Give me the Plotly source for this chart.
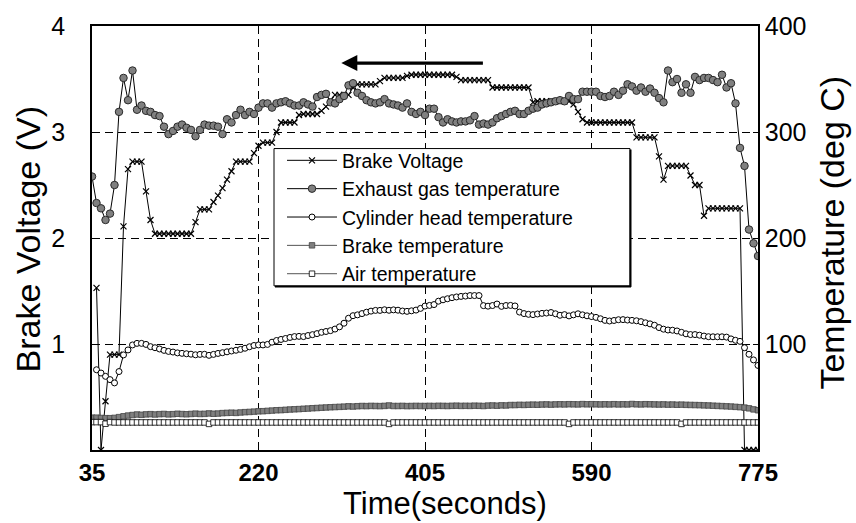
import plotly.graph_objects as go

# ---- data ----
time_s = list(range(35, 780, 5))  # 35 ... 775 s, 5 s sampling

brake_voltage = [
    None, 1.53, 0.0, 0.46, 0.90, 0.90, 0.90, 2.11, 2.65, 2.72,
    2.72, 2.72, 2.44, 2.17, 2.04, 2.04, 2.04, 2.04, 2.04, 2.04,
    2.04, 2.04, 2.04, 2.15, 2.27, 2.27, 2.27, 2.34, 2.40, 2.47,
    2.55, 2.63, 2.72, 2.72, 2.72, 2.72, 2.80, 2.87, 2.90, 2.90,
    2.90, 3.00, 3.09, 3.09, 3.09, 3.09, 3.16, 3.17, 3.17, 3.17,
    3.17, 3.20, 3.24, 3.30, 3.35, 3.35, 3.35, 3.35, 3.42, 3.45,
    3.45, 3.45, 3.45, 3.45, 3.48, 3.51, 3.51, 3.51, 3.51, 3.51,
    3.53, 3.54, 3.54, 3.54, 3.54, 3.54, 3.54, 3.54, 3.54, 3.54,
    3.54, 3.52, 3.49, 3.49, 3.49, 3.49, 3.49, 3.49, 3.49, 3.42,
    3.42, 3.42, 3.42, 3.42, 3.42, 3.42, 3.42, 3.42, 3.28, 3.29,
    3.29, 3.29, 3.29, 3.29, 3.29, 3.29, 3.29, 3.26, 3.19, 3.12,
    3.09, 3.09, 3.09, 3.09, 3.09, 3.09, 3.09, 3.09, 3.09, 3.09,
    3.09, 2.95, 2.95, 2.95, 2.95, 2.95, 2.77, 2.55, 2.68, 2.68,
    2.68, 2.68, 2.68, 2.59, 2.50, 2.50, 2.21, 2.28, 2.28, 2.28,
    2.28, 2.28, 2.28, 2.28, 2.28, 0.0, 0.0, 0.0, 0.0,
]

exhaust_temp = [
    258, 233, 228, 217, 223, 250, 319, 351, 330, 358,
    321, 325, 320, 319, 316, 315, 305, 298, 301, 305,
    307, 304, 302, 296, 302, 307, 306, 306, 305, 298,
    312, 309, 316, 321, 316, 319, 317, 323, 327, 327,
    323, 327, 328, 329, 327, 325, 325, 328, 326, 324,
    333, 335, 336, 328, 327, 331, 334, 344, 346, 337,
    334, 330, 328, 327, 328, 331, 327, 326, 325, 323,
    327, 319, 317, 319, 316, 322, 322, 314, 309, 312,
    310, 309, 310, 310, 311, 315, 307, 308, 307, 309,
    313, 315, 317, 319, 320, 317, 317, 320, 322, 323,
    326, 327, 328, 329, 330, 329, 334, 331, 331, 338,
    338, 338, 338, 334, 333, 334, 338, 335, 339, 345,
    343, 339, 342, 338, 341, 337, 332, 328, 358, 347,
    350, 337, 345, 337, 352, 349, 351, 351, 349, 347,
    354, 342, 346, 327, 285, 268, 208, 195, 183,
]

cylinder_head_temp = [
    None, 75.7, 72.6, 69.5, 66.4, 63.3, 74.0, 89.7, 94.4, 99.1,
    100.6, 100.6, 99.6, 97.5, 96.5, 95.3, 94.0, 93.0, 92.4, 91.6,
    91.2, 90.8, 90.4, 89.8, 90.2, 90.3, 89.3, 90.2, 91.1, 91.8,
    92.6, 93.4, 94.1, 94.9, 96.0, 97.4, 98.6, 99.1, 99.1, 99.6,
    101.7, 103.3, 104.3, 105.2, 106.2, 107.0, 107.2, 107.0, 108.0, 108.8,
    109.8, 111.0, 111.8, 112.6, 114.1, 116.2, 119.6, 124.3, 126.7, 127.5,
    128.7, 130.0, 131.0, 131.7, 131.7, 132.3, 131.8, 132.2, 131.9, 131.1,
    130.8, 131.3, 132.0, 133.6, 135.8, 136.4, 137.2, 140.4, 141.7, 142.7,
    143.7, 144.4, 144.9, 145.2, 145.7, 145.7, 145.7, 136.2, 135.7, 136.3,
    137.7, 135.5, 136.3, 136.4, 135.9, 130.1, 128.7, 128.0, 127.7, 128.3,
    128.9, 129.2, 129.7, 128.5, 127.1, 127.7, 126.5, 127.5, 128.5, 127.5,
    126.6, 125.9, 125.1, 123.8, 122.3, 121.7, 122.2, 122.9, 123.0, 122.6,
    122.3, 121.9, 121.1, 120.0, 119.0, 117.7, 115.5, 114.0, 113.2, 113.0,
    112.3, 111.0, 109.6, 108.9, 108.9, 108.3, 107.5, 106.9, 106.8, 106.8,
    106.8, 106.5, 104.8, 103.5, 102.5, 96.5, 90.3, 85.0, 79.8,
]

brake_temp = [
    30.5, 30.5, 30.2, 30.0, 30.0, 30.3, 31.0, 31.8, 32.5, 33.0,
    33.5, 33.2, 33.6, 33.8, 33.5, 33.8, 34.0, 33.6, 33.8, 34.2,
    33.9, 33.7, 34.0, 34.3, 34.0, 34.1, 34.5, 34.2, 34.4, 34.8,
    35.0, 35.2, 35.0, 35.4, 35.7, 35.9, 36.2, 36.5, 36.6, 36.9,
    37.2, 37.5, 37.6, 37.9, 38.2, 38.4, 38.6, 38.9, 39.1, 39.4,
    39.6, 39.9, 40.1, 40.3, 40.5, 40.7, 40.9, 41.2, 41.0, 41.3,
    41.5, 41.4, 41.6, 41.5, 41.4, 41.6, 42.0, 41.5, 41.5, 41.6,
    41.4, 41.5, 41.6, 41.5, 41.5, 41.6, 41.5, 41.7, 41.6, 41.5,
    41.7, 41.8, 41.6, 41.7, 41.6, 41.8, 41.7, 41.5, 41.9, 42.0,
    41.8, 42.1, 42.0, 42.4, 42.4, 42.6, 42.5, 42.7, 42.8, 42.7,
    42.9, 43.0, 42.8, 43.0, 43.1, 43.0, 43.2, 43.1, 43.0, 43.3,
    43.1, 43.2, 43.1, 43.0, 43.1, 43.0, 43.2, 43.0, 43.1, 43.0,
    43.4, 43.1, 43.0, 43.2, 43.1, 43.0, 42.9, 43.0, 42.8, 42.9,
    42.7, 42.8, 42.6, 42.5, 42.4, 42.3, 42.1, 42.0, 41.8, 41.6,
    41.4, 41.2, 41.0, 40.7, 40.4, 40.0, 39.3, 38.3, 37.5,
]

air_temp = [
    26.3, 26.3, 26.3, 24.8, 26.3, 26.0, 26.0, 26.0, 26.0, 26.0,
    26.0, 26.0, 26.0, 26.0, 26.0, 26.0, 26.0, 26.0, 26.0, 26.0,
    26.0, 26.0, 26.0, 26.0, 26.0, 26.0, 24.6, 26.0, 26.0, 26.0,
    26.0, 26.0, 26.0, 26.0, 26.0, 26.0, 26.0, 26.0, 26.0, 26.0,
    26.0, 26.0, 26.0, 26.0, 26.0, 26.0, 26.0, 26.0, 26.0, 26.0,
    26.0, 26.0, 26.0, 26.0, 26.0, 26.0, 26.0, 26.0, 26.0, 26.0,
    26.0, 26.0, 26.0, 26.0, 26.0, 26.0, 24.6, 26.0, 26.0, 26.0,
    26.0, 26.0, 26.0, 26.0, 26.0, 26.0, 26.0, 26.0, 26.0, 26.0,
    26.0, 26.0, 26.0, 26.0, 26.0, 26.0, 26.0, 26.0, 26.0, 26.0,
    26.0, 26.0, 26.0, 26.0, 26.0, 26.0, 26.0, 26.0, 26.0, 26.0,
    26.0, 26.0, 26.0, 26.0, 26.0, 26.0, 24.6, 26.0, 26.0, 26.0,
    26.0, 26.0, 26.0, 26.0, 26.0, 26.0, 26.0, 26.0, 26.0, 26.0,
    26.0, 26.0, 26.0, 26.0, 26.0, 26.0, 26.0, 26.0, 26.0, 26.0,
    26.0, 24.6, 26.0, 26.0, 26.0, 26.0, 26.0, 26.0, 26.0, 26.0,
    26.0, 26.0, 26.0, 26.0, 26.0, 26.0, 26.0, 26.0, 26.0,
]

x_ticks = [35, 220, 405, 590, 775]
v_ticks = [1, 2, 3, 4]
t_ticks = [100, 200, 300, 400]

FONT = "Liberation Sans, Arial, sans-serif"

# plot-area geometry in pixels (used to place paper-referenced decorations)
W, H = 856, 523
ML, MR, MT, MB = 92, 98, 21, 73
PW, PH = W - ML - MR, H - MT - MB


def px_x(p):
    return (p - ML) / PW


def px_y(p):
    return 1 - (p - MT) / PH


fig = go.Figure()

fig.add_trace(go.Scatter(
    x=time_s, y=brake_voltage, name="Brake Voltage", mode="lines+markers",
    line=dict(color="black", width=1),
    marker=dict(symbol="x-thin", size=6, line=dict(color="black", width=1.2)),
    yaxis="y",
))
fig.add_trace(go.Scatter(
    x=time_s, y=exhaust_temp, name="Exhaust gas temperature", mode="lines+markers",
    line=dict(color="black", width=1),
    marker=dict(symbol="circle", size=7.5, color="#808080", line=dict(color="#2a2a2a", width=1)),
    yaxis="y2",
))
fig.add_trace(go.Scatter(
    x=time_s, y=cylinder_head_temp, name="Cylinder head temperature", mode="lines+markers",
    line=dict(color="black", width=1),
    marker=dict(symbol="circle", size=6, color="white", line=dict(color="black", width=1)),
    yaxis="y2",
))
fig.add_trace(go.Scatter(
    x=time_s, y=brake_temp, name="Brake temperature", mode="lines+markers",
    line=dict(color="#555555", width=1),
    marker=dict(symbol="square", size=5.5, color="#7f7f7f", line=dict(color="#444444", width=0.8)),
    yaxis="y2",
))
fig.add_trace(go.Scatter(
    x=time_s, y=air_temp, name="Air temperature", mode="lines+markers",
    line=dict(color="#555555", width=1),
    marker=dict(symbol="square", size=5.5, color="white", line=dict(color="black", width=0.8)),
    yaxis="y2",
))

grid = dict(showgrid=True, gridcolor="black", gridwidth=1, griddash="8px,5px")

fig.update_layout(
    width=W, height=H,
    margin=dict(l=ML, r=MR, t=MT, b=MB),
    paper_bgcolor="white", plot_bgcolor="white",
    font=dict(family=FONT, color="black"),
    showlegend=True,
    legend=dict(
        x=px_x(282), y=px_y(137.5), xanchor="left", yanchor="top",
        bgcolor="rgba(0,0,0,0)", borderwidth=0,
        font=dict(size=19.5, family=FONT), itemwidth=50,
        tracegroupgap=0,
    ),
    xaxis=dict(
        range=[35, 775], tickvals=x_ticks, ticktext=[f"<b>{v}</b>" for v in x_ticks],
        tickfont=dict(size=24, family=FONT), ticks="inside", ticklen=5, tickcolor="black",
        showline=True, linecolor="black", linewidth=1.5, mirror=True, zeroline=False,
        **grid,
    ),
    yaxis=dict(
        range=[0, 4], tickvals=v_ticks, tickfont=dict(size=25, family=FONT),
        ticks="inside", ticklen=5, tickcolor="black", ticklabelstandoff=20,
        showline=True, linecolor="black", linewidth=1.5, zeroline=False,
        **grid,
    ),
    yaxis2=dict(
        range=[0, 400], tickvals=t_ticks, tickfont=dict(size=25, family=FONT),
        overlaying="y", side="right", showgrid=False,
        ticks="inside", ticklen=5, tickcolor="black",
        showline=True, linecolor="black", linewidth=1.5, zeroline=False,
    ),
)

# legend frame (white box with a slight shadow on right/bottom edges)
fig.add_shape(type="rect", xref="paper", yref="paper", layer="above",
              x0=px_x(274), x1=px_x(630), y0=px_y(284), y1=px_y(145),
              fillcolor="white", line=dict(color="black", width=1))
fig.add_shape(type="line", xref="paper", yref="paper", layer="above",
              x0=px_x(630.5), x1=px_x(630.5), y0=px_y(285), y1=px_y(146),
              line=dict(color="black", width=2))
fig.add_shape(type="line", xref="paper", yref="paper", layer="above",
              x0=px_x(275), x1=px_x(631), y0=px_y(284.5), y1=px_y(284.5),
              line=dict(color="black", width=2))

# axis titles as annotations for precise placement
fig.add_annotation(text="Time(seconds)", xref="paper", yref="paper",
                   x=px_x(445), y=px_y(504), showarrow=False,
                   font=dict(size=31, family=FONT), xanchor="center", yanchor="middle")
fig.add_annotation(text="Brake Voltage (V)", xref="paper", yref="paper",
                   x=px_x(28), y=px_y(237), showarrow=False, textangle=-90,
                   font=dict(size=34, family=FONT), xanchor="center", yanchor="middle")
fig.add_annotation(text="Temperature (deg C)", xref="paper", yref="paper",
                   x=px_x(832), y=px_y(230), showarrow=False, textangle=-90,
                   font=dict(size=34, family=FONT), xanchor="center", yanchor="middle")

# direction arrow
fig.add_annotation(x=312, y=3.65, ax=471, ay=3.65, xref="x", yref="y", axref="x", ayref="y",
                   text="", showarrow=True, arrowhead=2, arrowsize=1, arrowwidth=3.2,
                   arrowcolor="black")

fig.write_html("out.html")
